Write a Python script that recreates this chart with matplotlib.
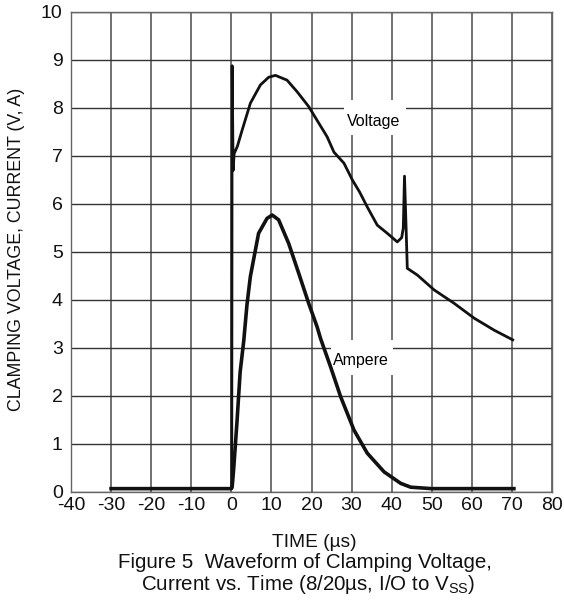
import matplotlib
matplotlib.use('Agg')
from matplotlib import pyplot as plt
from matplotlib.patches import Rectangle

plt.rcParams['font.family'] = ['Liberation Sans', 'DejaVu Sans']
plt.rcParams['mathtext.fontset'] = 'custom'
plt.rcParams['mathtext.rm'] = 'Liberation Sans'
plt.rcParams['axes.unicode_minus'] = False

# voltage trace (us, V)
volt_t = [0.0, 0.1, 0.2, 0.45, 0.7, 1.5, 2.7, 4.75, 7.25, 9.3, 11.0, 13.9, 16.4,
          19.3, 23.9, 25.6, 28.1, 30.2, 32.0, 33.9, 36.4, 38.9, 41.4, 42.5, 42.9,
          43.2, 43.6, 43.9, 46.4, 50.6, 55.6, 60.6, 65.6, 70.2]
volt_v = [0.07, 0.07, 8.88, 6.7, 7.05, 7.2, 7.54, 8.1, 8.48, 8.64, 8.68, 8.58, 8.34,
          8.03, 7.40, 7.08, 6.85, 6.5, 6.25, 5.94, 5.56, 5.39, 5.21, 5.3, 5.5,
          6.58, 5.5, 4.66, 4.52, 4.21, 3.93, 3.62, 3.37, 3.17]

# current trace (us, A)
amp_t = [-30.0, -20.0, -10.0, 0.0, 0.2, 0.6, 1.4, 2.2, 3.1, 3.9, 4.75, 6.8, 8.9, 10.2,
         11.8, 14.3, 16.8, 19.3, 21.4, 22.25, 24.75, 27.25, 30.6, 33.9, 38.1,
         42.25, 44.75, 50.0, 60.0, 70.5]
amp_v = [0.07, 0.07, 0.07, 0.07, 0.1, 0.5, 1.45, 2.5, 3.15, 3.9, 4.49, 5.39, 5.70, 5.77,
         5.67, 5.18, 4.56, 3.93, 3.44, 3.2, 2.61, 1.99, 1.29, 0.81, 0.42,
         0.18, 0.1, 0.07, 0.07, 0.07]

x_ticks = list(range(-40, 81, 10))
y_ticks = list(range(0, 11))

fig = plt.figure(figsize=(5.64, 6.07), dpi=100)
ax = fig.add_axes([71/564, 115/607, 481/564, 480/607])
ax.set_xlim(-40, 80)
ax.set_ylim(0, 10)
ax.set_xticks(x_ticks)
ax.set_yticks(y_ticks)
ax.tick_params(axis='both', length=0, labelsize=14, colors='#111')
ax.tick_params(axis='x', pad=3.4)
ax.tick_params(axis='y', pad=6)
ax.set_axisbelow(True)
ax.yaxis.grid(True, color='#333', lw=1.0)
ax.xaxis.grid(True, color='#666', lw=1.3)
for s in ax.spines.values():
    s.set_color('#666')
    s.set_linewidth(1.0)

ax.plot(volt_t, volt_v, color='#111', lw=2.0, zorder=3)
ax.plot(amp_t, amp_v, color='#111', lw=2.6, zorder=3)

# white label boxes over the grid
ax.add_patch(Rectangle((28, 7.44), 15.5, 0.73, fc='white', ec='none', zorder=1.5))
ax.add_patch(Rectangle((24.75, 2.44), 15.5, 0.73, fc='white', ec='none', zorder=1.5))
ax.text(35.6, 7.72, 'Voltage', fontsize=11.5, ha='center', va='center', zorder=4)
ax.text(32.4, 2.74, 'Ampere', fontsize=11.5, ha='center', va='center', zorder=4)

fig.text(16.5/564, 1 - 249/607, 'CLAMPING VOLTAGE, CURRENT (V, A)', rotation=90,
         ha='center', va='center', fontsize=12.8, color='#111')
fig.text(314/564, 1 - 546.7/607, 'TIME (µs)', ha='center', va='baseline',
         fontsize=13.8, color='#111')
fig.text(305/564, 1 - 568/607, 'Figure 5  Waveform of Clamping Voltage,',
         ha='center', va='baseline', fontsize=14.8, color='#111')
fig.text(308/564, 1 - 590/607, r'Current vs. Time (8/20µs, I/O to V$\mathregular{_{SS}}$)',
         ha='center', va='baseline', fontsize=14.8, color='#111')

fig.savefig('out.png', dpi=100)
